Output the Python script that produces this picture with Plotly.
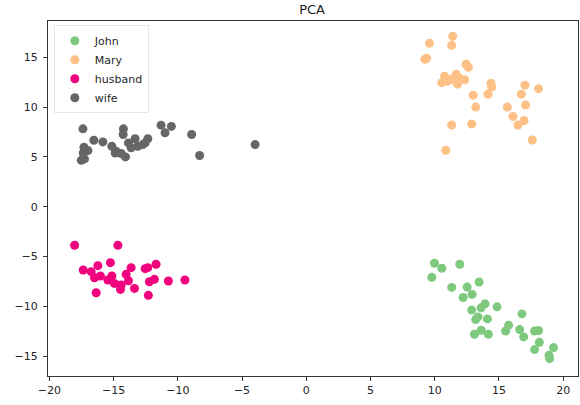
import plotly.graph_objects as go

names = ["John", "Mary", "husband", "wife"]
colors = ["#7fc97f", "#fdc086", "#f0027f", "#666666"]

john_x = [9.98, 10.55, 11.95, 9.77, 11.32, 12.52, 12.91, 12.21, 13.45, 12.88, 13.61, 13.92, 14.85,
          13.19, 13.37, 14.10, 13.09, 13.61, 14.17, 16.79, 15.75, 15.52, 16.61, 16.92, 17.77, 18.08,
          18.14, 17.77, 19.25, 18.89, 18.94]
john_y = [-5.67, -6.17, -5.77, -7.08, -8.09, -8.06, -8.79, -9.10, -7.55, -10.37, -10.14, -9.74, -10.04,
          -11.31, -11.05, -11.25, -12.79, -12.39, -12.79, -10.75, -11.88, -12.46, -12.32, -13.06, -12.46, -12.42,
          -13.60, -14.33, -14.13, -14.90, -15.24]

mary_x = [11.40, 9.59, 11.32, 9.36, 9.23, 12.44, 12.62, 10.76, 11.67, 11.92, 12.33, 10.55, 10.97,
          11.36, 11.77, 14.38, 14.43, 17.02, 18.08, 12.99, 14.15, 16.74, 13.19, 17.07, 15.65, 16.09,
          16.95, 16.48, 11.32, 12.88, 17.59, 10.86]
mary_y = [17.1, 16.4, 16.2, 14.9, 14.8, 14.3, 14.0, 13.1, 13.3, 12.9, 12.75, 12.45, 12.6,
          12.8, 12.3, 12.4, 12.0, 12.2, 11.85, 11.2, 11.3, 11.3, 10.0, 10.2, 10.0, 9.06,
          8.66, 8.2, 8.2, 8.3, 6.7, 5.67]

husband_x = [-18.03, -14.66, -15.24, -17.36, -16.74, -16.22, -16.48, -16.02, -16.35, -15.13, -14.93,
             -14.41, -14.46, -14.02, -13.63, -13.84, -13.37, -12.54, -12.33, -11.69, -12.21, -11.82,
             -12.29, -10.73, -9.44, -15.44]
husband_y = [-3.86, -3.86, -5.61, -6.34, -6.51, -5.91, -7.12, -6.95, -8.63, -6.95, -7.69,
             -7.85, -8.29, -6.78, -6.11, -7.42, -8.19, -6.21, -6.11, -5.77, -7.52, -7.28,
             -8.89, -7.45, -7.35, -7.35]

wife_x = [-17.38, -14.23, -14.25, -11.30, -10.50, -10.99, -8.92, -3.98, -8.30, -16.53, -15.83, -17.30,
          -16.99, -17.36, -17.51, -17.26, -15.13, -14.80, -14.87, -14.41, -14.07, -13.84, -13.32,
          -13.63, -13.11, -12.72, -12.33, -12.54]
wife_y = [7.82, 7.82, 7.25, 8.19, 8.06, 7.42, 7.25, 6.24, 5.14, 6.68, 6.51, 5.97,
          5.64, 5.40, 4.66, 4.80, 6.07, 5.57, 5.40, 5.34, 5.00, 6.41, 6.82,
          5.91, 6.07, 6.24, 6.82, 6.41]

xs = [john_x, mary_x, husband_x, wife_x]
ys = [john_y, mary_y, husband_y, wife_y]

x_ticks = [-20, -15, -10, -5, 0, 5, 10, 15, 20]
y_ticks = [-15, -10, -5, 0, 5, 10, 15]


def fmt(v):
    return ("\u2212" + str(-v)) if v < 0 else str(v)


fig = go.Figure()
for n, c, x, y in zip(names, colors, xs, ys):
    fig.add_trace(go.Scatter(x=x, y=y, mode="markers", name=n,
                             marker=dict(color=c, size=9, line=dict(width=0))))

axis_common = dict(showgrid=False, zeroline=False, showline=True, linecolor="#333333",
                   linewidth=1, mirror=True, ticks="outside", ticklen=4, tickcolor="#333333",
                   tickfont=dict(family="DejaVu Sans", size=11, color="#262626"))

fig.update_layout(
    width=580, height=405,
    margin=dict(l=48, r=2, t=21, b=29),
    paper_bgcolor="white", plot_bgcolor="white",
    title=dict(text="PCA", x=0.538, xanchor="center", y=0.976, yanchor="middle",
               font=dict(family="DejaVu Sans", size=13, color="#222222")),
    xaxis=dict(range=[-20.1, 21.15], tickvals=x_ticks, ticktext=[fmt(v) for v in x_ticks], **axis_common),
    yaxis=dict(range=[-16.98, 18.64], tickvals=y_ticks, ticktext=[fmt(v) for v in y_ticks],
               ticklabelstandoff=3, **axis_common),
    legend=dict(x=0.011, y=0.988, xanchor="left", yanchor="top",
                bgcolor="rgba(255,255,255,0.8)", bordercolor="#e6e6e6", borderwidth=1,
                font=dict(family="DejaVu Sans", size=11, color="#262626")),
    showlegend=True,
)

fig.write_html("out.html")
